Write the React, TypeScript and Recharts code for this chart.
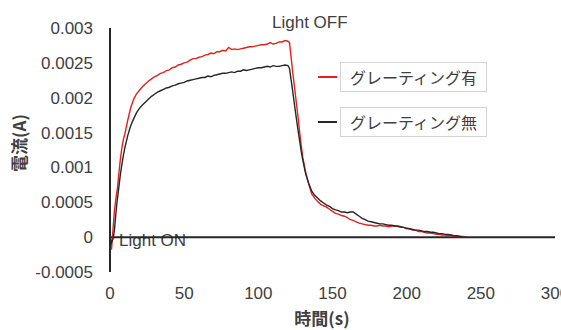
import React from "react";
import {
  LineChart,
  Line,
  XAxis,
  YAxis,
  ReferenceLine,
  Customized,
} from "recharts";

// Elapsed time (s)
const TIME = [
  0, 1, 2, 3, 4, 5, 6, 7, 8, 9, 10,
  12, 14, 16, 18, 20, 22, 24, 26, 28, 30,
  32, 34, 36, 38, 40, 42, 44, 46, 48, 50,
  52, 54, 56, 58, 60, 62, 64, 66, 68, 70,
  72, 74, 76, 78, 80, 82, 84, 86, 88, 90,
  92, 94, 96, 98, 100, 102, 104, 106, 108, 110,
  112, 114, 116, 118, 120,
  121, 122, 123, 124, 125, 126, 127, 128, 129, 130,
  132, 134, 136, 138, 140, 142, 144, 146, 148, 150,
  152, 154, 156, 158, 160, 162, 164, 166, 168, 170,
  172, 174, 176, 178, 180, 182, 184, 186, 188, 190,
  192, 194, 196, 198, 200, 202, 204, 206, 208, 210,
  212, 214, 216, 218, 220, 222, 224, 226, 228, 230,
  232, 234, 236, 238, 240,
];

// Photocurrent with grating (A)
const CURRENT_WITH_GRATING = [
  0, -0.00018, 0.0001, 0.00038, 0.00056, 0.0007, 0.00092, 0.00112, 0.00128, 0.0014, 0.00148,
  0.00168, 0.00186, 0.00198, 0.00206, 0.00211, 0.00216, 0.0022, 0.00224, 0.00227, 0.0023,
  0.00232, 0.00235, 0.00236, 0.00239, 0.0024, 0.00243, 0.00244, 0.00247, 0.00248, 0.0025,
  0.00251, 0.00254, 0.00256, 0.00256, 0.00258, 0.00259, 0.00261, 0.00262, 0.00264, 0.00263,
  0.00266, 0.00266, 0.00268, 0.00267, 0.00272, 0.00269, 0.0027, 0.00269, 0.0027, 0.00271,
  0.00272, 0.00273, 0.00273, 0.00274, 0.00275, 0.00276, 0.00276, 0.00277, 0.00279, 0.00277,
  0.00278, 0.0028, 0.0028, 0.00282, 0.00281,
  0.00279, 0.0026, 0.0024, 0.00222, 0.00204, 0.00186, 0.00168, 0.00148, 0.0013, 0.00114,
  0.00092, 0.00076, 0.00062, 0.00056, 0.00051, 0.00047, 0.00045, 0.00043, 0.0004, 0.00037,
  0.00034, 0.00033, 0.00031, 0.0003, 0.00028, 0.00025, 0.00024, 0.00022, 0.0002, 0.00019,
  0.00018, 0.00017, 0.00017, 0.00016, 0.00016, 0.00017, 0.00016, 0.00016, 0.00015, 0.00016,
  0.00016, 0.00015, 0.00014, 0.00014, 0.00012, 0.00012, 0.0001, 0.0001, 0.00008, 0.00008,
  0.00007, 0.00006, 0.00006, 0.00005, 0.00004, 0.00004, 0.00003, 0.00003, 0.00002, 0.00002,
  0.00002, 0.00001, 0.00001, 0.00001, 0,
];

// Photocurrent without grating (A)
const CURRENT_WITHOUT_GRATING = [
  0.00002, -0.00008, -0.00003, 0.0001, 0.00035, 0.00055, 0.00072, 0.0009, 0.00104, 0.00117, 0.00128,
  0.00146, 0.0016, 0.0017, 0.00179, 0.00185, 0.0019, 0.00194, 0.00198, 0.00202, 0.00205,
  0.00208, 0.0021, 0.00212, 0.00214, 0.00215, 0.00217, 0.00218, 0.0022, 0.00221, 0.00222,
  0.00224, 0.00225, 0.00226, 0.00227, 0.00228, 0.00229, 0.00229, 0.00231, 0.0023, 0.00232,
  0.00233, 0.00234, 0.00235, 0.00235, 0.00236, 0.00237, 0.00236, 0.00238, 0.00238, 0.0024,
  0.00239, 0.0024, 0.00241, 0.00242, 0.00243, 0.00243, 0.00244, 0.00245, 0.00244, 0.00246,
  0.00245, 0.00245, 0.00246, 0.00247, 0.00246,
  0.00242, 0.00227, 0.00212, 0.00196, 0.0018, 0.00165, 0.0015, 0.00136, 0.00122, 0.0011,
  0.0009, 0.00077, 0.00066, 0.0006, 0.00056, 0.00052, 0.00049, 0.00046, 0.00044, 0.00041,
  0.00039, 0.00038, 0.00036, 0.00036, 0.00035, 0.00036, 0.00036, 0.00033, 0.0003, 0.00027,
  0.00025, 0.00023, 0.00022, 0.00021, 0.0002, 0.00019, 0.00019, 0.00018, 0.00017, 0.00017,
  0.00016, 0.00016, 0.00015, 0.00014, 0.00013, 0.00012, 0.00011, 0.0001, 0.0001, 0.00009,
  0.00008, 0.00008, 0.00007, 0.00007, 0.00006, 0.00005, 0.00005, 0.00004, 0.00004, 0.00003,
  0.00002, 0.00002, 0.00001, 0, 0,
];

const X_TICKS = [0, 50, 100, 150, 200, 250, 300];
const Y_TICKS = [-0.0005, 0, 0.0005, 0.001, 0.0015, 0.002, 0.0025, 0.003];

const SERIES = [
  { key: "withGrating", name: "グレーティング有", color: "#E3211C" },
  { key: "withoutGrating", name: "グレーティング無", color: "#262626" },
];

const rows = TIME.map((t, i) => ({
  t,
  withGrating: CURRENT_WITH_GRATING[i],
  withoutGrating: CURRENT_WITHOUT_GRATING[i],
}));

const LATIN = "'Liberation Sans', Arial, sans-serif";
const CJK = "'Noto Sans CJK JP', 'Noto Sans', sans-serif";
const TEXT_COLOR = "#404040";

const tickStyle = { fontFamily: LATIN, fontSize: 17, fill: TEXT_COLOR };

function Annotations() {
  return (
    <g>
      <text x={272} y={28} fontFamily={LATIN} fontSize={17} fill={TEXT_COLOR}>
        Light OFF
      </text>
      <text x={119} y={246} fontFamily={LATIN} fontSize={17} fill={TEXT_COLOR}>
        Light ON
      </text>
      <text
        x={322}
        y={325}
        textAnchor="middle"
        fontFamily={CJK}
        fontWeight="bold"
        fontSize={17}
        fill={TEXT_COLOR}
      >
        時間(s)
      </text>
      <text
        transform="translate(26,143) rotate(-90)"
        textAnchor="middle"
        fontFamily={CJK}
        fontWeight="bold"
        fontSize={17}
        fill={TEXT_COLOR}
      >
        電流(A)
      </text>
    </g>
  );
}

function LegendBoxes() {
  return (
    <div style={{ position: "absolute", left: 318, top: 62, width: 175 }}>
      {SERIES.map((s, i) => (
        <div
          key={s.key}
          style={{
            display: "flex",
            alignItems: "center",
            marginTop: i === 0 ? 0 : 15,
          }}
        >
          <div style={{ width: 19, height: 2, background: s.color, marginRight: 3 }} />
          <div
            style={{
              boxSizing: "border-box",
              width: 147,
              height: 30,
              border: "1px solid #d4d4d4",
              paddingLeft: 9,
              fontFamily: CJK,
              fontSize: 16,
              lineHeight: "28px",
              color: TEXT_COLOR,
              whiteSpace: "nowrap",
              background: "#fff",
            }}
          >
            {s.name}
          </div>
        </div>
      ))}
    </div>
  );
}

export default function App() {
  return (
    <div style={{ position: "absolute", left: 0, top: 0, width: 561, height: 330, background: "#fff" }}>
      <LineChart
        width={561}
        height={330}
        data={rows}
        margin={{ top: 28, right: 6, bottom: 28, left: 10 }}
      >
        <XAxis
          dataKey="t"
          type="number"
          domain={[0, 300]}
          ticks={X_TICKS}
          height={30}
          axisLine={false}
          tickLine={false}
          tickSize={0}
          tickMargin={15}
          tick={tickStyle}
          interval={0}
        />
        <YAxis
          type="number"
          domain={[-0.0005, 0.003]}
          ticks={Y_TICKS}
          width={100}
          axisLine={{ stroke: "#262626", strokeWidth: 2 }}
          tickLine={false}
          tickSize={0}
          tickMargin={17}
          tick={tickStyle}
          interval={0}
          allowDataOverflow
        />
        <ReferenceLine y={0} stroke="#262626" strokeWidth={2} />
        {SERIES.map((s) => (
          <Line
            key={s.key}
            type="linear"
            dataKey={s.key}
            name={s.name}
            stroke={s.color}
            strokeWidth={1.4}
            dot={false}
            activeDot={false}
            isAnimationActive={false}
          />
        ))}
        <Customized component={<Annotations />} />
      </LineChart>
      <LegendBoxes />
    </div>
  );
}
